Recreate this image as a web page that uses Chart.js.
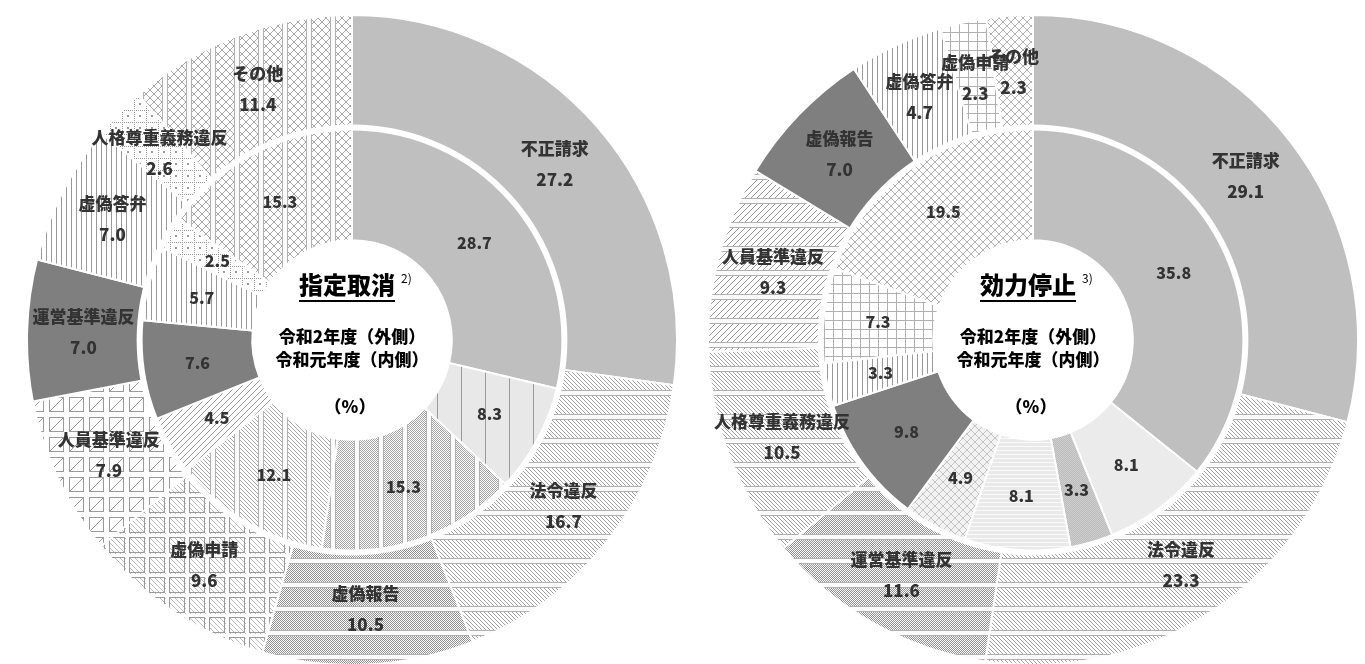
<!DOCTYPE html>
<html>
<head>
<meta charset="utf-8">
<script src="https://cdn.jsdelivr.net/npm/chart.js@4.4.0/dist/chart.umd.min.js"></script>
<style>
  html, body { margin: 0; padding: 0; background: #fff; overflow: hidden; }
  body { width: 1365px; height: 664px; position: relative; }
  canvas { position: absolute; top: 14px; }
  #cancelChart { left: 26px; }
  #suspendChart { left: 707px; }
</style>
</head>
<body>
<canvas id="cancelChart" width="652" height="652"></canvas>
<canvas id="suspendChart" width="652" height="652"></canvas>
<script>
// 指定取消 (left)
const cancelLabels = ['不正請求', '法令違反', '虚偽報告', '虚偽申請', '人員基準違反', '運営基準違反', '虚偽答弁', '人格尊重義務違反', 'その他'];
const cancelR2 = [27.2, 16.7, 10.5, 9.6, 7.9, 7.0, 7.0, 2.6, 11.4];   // 令和2年度 (outer)
const cancelR1 = [28.7, 8.3, 15.3, 12.1, 4.5, 7.6, 5.7, 2.5, 15.3];   // 令和元年度 (inner)

// 効力停止 (right)
const suspendLabels = ['不正請求', '法令違反', '運営基準違反', '人格尊重義務違反', '人員基準違反', '虚偽報告', '虚偽答弁', '虚偽申請', 'その他'];
const suspendR2 = [29.1, 23.3, 11.6, 10.5, 9.3, 7.0, 4.7, 2.3, 2.3];
const suspendR1 = [35.8, 8.1, 3.3, 8.1, 4.9, 9.8, 3.3, 7.3, 19.5];

const FONT = '"Noto Sans CJK JP", "Noto Sans", sans-serif';
const TEXT = '#333';

// ---- pattern tiles ----
function tile(ctx, w, h, draw) {
  const c = document.createElement('canvas');
  c.width = w; c.height = h;
  const g = c.getContext('2d');
  draw(g, w, h);
  return ctx.createPattern(c, 'repeat');
}
function bg(g, w, h, col) { g.fillStyle = col; g.fillRect(0, 0, w, h); }
function hatch(g, w, h, step, dir, col, lw) {
  g.strokeStyle = col; g.lineWidth = lw || 1;
  g.beginPath();
  for (let k = -h; k <= w + h; k += step) {
    if (dir === '\\') { g.moveTo(k, 0); g.lineTo(k + h, h); }
    else { g.moveTo(k, h); g.lineTo(k + h, 0); }
  }
  g.stroke();
}
function stipple(g, w, h, col) {
  g.fillStyle = col;
  for (let x = 0; x < w; x++) for (let y = 0; y < h; y++) if ((x + y) % 2 === 0) g.fillRect(x, y, 1, 1);
}
function bar(g, w, h, orient) {
  g.fillStyle = '#fbfbfb'; g.strokeStyle = '#b0b0b0'; g.lineWidth = 1;
  if (orient === 'h') { g.fillRect(0, h - 7, w, 5); g.strokeRect(-1, h - 7.5, w + 2, 5); }
  else { g.fillRect(w - 7, 0, 5, h); g.strokeRect(w - 7.5, -1, 5, h + 2); }
}

function makePatterns(ctx) {
  const p = {};
  p.light = '#bfbfbf';
  p.dark = '#7f7f7f';
  p.hatchH = tile(ctx, 24, 24, (g, w, h) => { bg(g, w, h, '#fff'); hatch(g, w, h, 4, '\\', '#a2a2a2'); bar(g, w, h, 'h'); });
  p.hatchV = tile(ctx, 24, 24, (g, w, h) => { bg(g, w, h, '#fff'); hatch(g, w, h, 4, '\\', '#a8a8a8'); bar(g, w, h, 'v'); });
  p.slashH = tile(ctx, 24, 24, (g, w, h) => { bg(g, w, h, '#fff'); hatch(g, w, h, 6, '/', '#9a9a9a'); bar(g, w, h, 'h'); });
  p.dotsH = tile(ctx, 24, 24, (g, w, h) => { bg(g, w, h, '#fff'); stipple(g, w, h, '#909090'); bar(g, w, h, 'h'); });
  p.dotsV = tile(ctx, 24, 24, (g, w, h) => { bg(g, w, h, '#fff'); stipple(g, w, h, '#a4a4a4'); bar(g, w, h, 'v'); });
  p.paleV = tile(ctx, 24, 24, (g, w, h) => { bg(g, w, h, '#e8e8e8'); g.fillStyle = '#9a9a9a'; g.fillRect(3, 0, 1, h); });
  p.boxBack = tile(ctx, 20, 20, (g, w, h) => {
    bg(g, w, h, '#fff'); hatch(g, w, h, 5, '\\', '#bcbcbc');
    g.fillStyle = '#fff'; g.fillRect(0, 0, w, 3); g.fillRect(0, 0, 3, h);
    g.strokeStyle = '#9a9a9a'; g.strokeRect(3.5, 3.5, 15, 15);
  });
  p.boxSlash = tile(ctx, 20, 20, (g, w, h) => {
    bg(g, w, h, '#fff');
    g.strokeStyle = '#9a9a9a'; g.lineWidth = 1; g.strokeRect(3.5, 3.5, 14, 14);
    g.beginPath(); g.moveTo(3.5, 17.5); g.lineTo(17.5, 3.5); g.stroke();
  });
  p.slash = tile(ctx, 12, 12, (g, w, h) => { bg(g, w, h, '#fff'); hatch(g, w, h, 6, '/', '#9a9a9a'); });
  p.vlines = tile(ctx, 5, 5, (g, w, h) => { bg(g, w, h, '#fff'); g.fillStyle = '#999'; g.fillRect(0, 0, 1, h); });
  p.dotgrid = tile(ctx, 12, 12, (g, w, h) => {
    bg(g, w, h, '#fff'); g.fillStyle = '#9a9a9a';
    for (let i = 0; i < 12; i += 2) { g.fillRect(i, 0, 1, 1); g.fillRect(0, i, 1, 1); }
    g.fillRect(5, 5, 2, 2);
  });
  p.grid = tile(ctx, 9, 9, (g, w, h) => { bg(g, w, h, '#fff'); g.fillStyle = '#b0b0b0'; g.fillRect(0, 0, w, 1); g.fillRect(0, 0, 1, h); });
  p.crossV = tile(ctx, 24, 24, (g, w, h) => { bg(g, w, h, '#fff'); hatch(g, w, h, 8, '\\', '#a8a8a8'); hatch(g, w, h, 8, '/', '#a8a8a8'); bar(g, w, h, 'v'); });
  p.cross = tile(ctx, 8, 8, (g, w, h) => { bg(g, w, h, '#fff'); hatch(g, w, h, 8, '\\', '#b0b0b0'); hatch(g, w, h, 8, '/', '#b0b0b0'); });
  p.crossLight = tile(ctx, 8, 8, (g, w, h) => { bg(g, w, h, '#f2f2f2'); hatch(g, w, h, 8, '\\', '#c4c4c4'); hatch(g, w, h, 8, '/', '#c4c4c4'); });
  p.pale = '#ebebeb';
  p.mid = tile(ctx, 4, 4, (g, w, h) => { bg(g, w, h, '#cdcdcd'); stipple(g, w, h, '#bdbdbd'); });
  p.hpale = tile(ctx, 4, 4, (g, w, h) => { bg(g, w, h, '#e9e9e9'); g.fillStyle = '#fafafa'; g.fillRect(0, 0, w, 1); });
  return p;
}

// ---- plugins ----
const labelPlugin = {
  id: 'ringLabels',
  afterDatasetsDraw(chart) {
    const ctx = chart.ctx;
    const outer = chart.getDatasetMeta(0).data[0];
    // white gap between the two rings
    ctx.save();
    ctx.strokeStyle = '#fff';
    ctx.lineWidth = 6;
    ctx.beginPath();
    ctx.arc(outer.x, outer.y, outer.innerRadius, 0, Math.PI * 2);
    ctx.stroke();

    ctx.fillStyle = TEXT;
    ctx.textAlign = 'center';
    ctx.textBaseline = 'middle';
    chart.data.datasets.forEach((ds, di) => {
      chart.getDatasetMeta(di).data.forEach((arc, i) => {
        const mid = (arc.startAngle + arc.endAngle) / 2;
        const r = (arc.innerRadius + arc.outerRadius) / 2;
        const x = arc.x + Math.cos(mid) * r;
        const y = arc.y + Math.sin(mid) * r;
        const val = ds.data[i].toFixed(1);
        if (di === 0) {
          ctx.font = '900 17px ' + FONT;
          ctx.fillText(chart.data.labels[i], x, y - 15);
          ctx.font = '900 17px ' + FONT;
          ctx.fillText(val, x, y + 16);
        } else {
          ctx.font = '900 16px ' + FONT;
          ctx.fillText(val, x, y);
        }
      });
    });
    ctx.restore();
  }
};

const centerPlugin = {
  id: 'centerText',
  afterDraw(chart, args, opts) {
    const ctx = chart.ctx;
    const cx = (chart.chartArea.left + chart.chartArea.right) / 2;
    const cy = (chart.chartArea.top + chart.chartArea.bottom) / 2;
    ctx.save();
    ctx.fillStyle = '#000';
    ctx.textAlign = 'center';
    ctx.textBaseline = 'middle';
    ctx.font = '900 24px ' + FONT;
    const tx = cx - 5, ty = cy - 55;
    ctx.fillText(opts.title, tx, ty);
    const tw = ctx.measureText(opts.title).width;
    ctx.fillRect(tx - tw / 2, ty + 15, tw, 2);
    ctx.font = '12px ' + FONT;
    ctx.textAlign = 'left';
    ctx.fillText(opts.note, tx + tw / 2 + 6, ty - 7);
    ctx.textAlign = 'center';
    ctx.font = '900 17px ' + FONT;
    ctx.fillText('令和2年度（外側）', cx, cy - 3);
    ctx.fillText('令和元年度（内側）', cx, cy + 20);
    ctx.fillText('（%）', cx - 2, cy + 67);
    ctx.restore();
  }
};

function makeChart(id, labels, outerVals, innerVals, outerKeys, innerKeys, title, note) {
  const canvas = document.getElementById(id);
  const ctx = canvas.getContext('2d');
  const p = makePatterns(ctx);
  return new Chart(canvas, {
    type: 'doughnut',
    data: {
      labels: labels,
      datasets: [
        { label: '令和2年度', data: outerVals, backgroundColor: outerKeys.map(k => p[k]), borderColor: '#fff', borderWidth: 2 },
        { label: '令和元年度', data: innerVals, backgroundColor: innerKeys.map(k => p[k]), borderColor: '#fff', borderWidth: 2 }
      ]
    },
    options: {
      responsive: false,
      animation: false,
      cutout: '30.7%',
      layout: { padding: 0 },
      plugins: {
        legend: { display: false },
        tooltip: { enabled: false },
        centerText: { title: title, note: note }
      }
    },
    plugins: [labelPlugin, centerPlugin]
  });
}

makeChart('cancelChart', cancelLabels, cancelR2, cancelR1,
  ['light', 'hatchH', 'dotsH', 'boxBack', 'boxSlash', 'dark', 'vlines', 'dotgrid', 'crossV'],
  ['light', 'paleV', 'dotsV', 'hatchV', 'slash', 'dark', 'vlines', 'dotgrid', 'crossV'],
  '指定取消', '2)');

makeChart('suspendChart', suspendLabels, suspendR2, suspendR1,
  ['light', 'hatchH', 'dotsH', 'hatchH', 'slashH', 'dark', 'vlines', 'grid', 'cross'],
  ['light', 'pale', 'mid', 'hpale', 'crossLight', 'dark', 'vlines', 'grid', 'cross'],
  '効力停止', '3)');
</script>
</body>
</html>
